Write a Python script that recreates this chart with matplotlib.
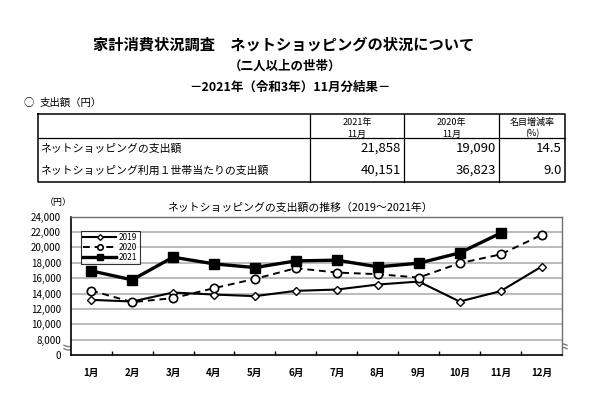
import numpy as np
import matplotlib
matplotlib.use('Agg')
import matplotlib.pyplot as plt

plt.rcParams['font.family'] = ['Noto Sans CJK JP', 'DejaVu Sans']

# monthly net shopping spending (yen)
months = ['1月', '2月', '3月', '4月', '5月', '6月', '7月', '8月', '9月', '10月', '11月', '12月']
y2019 = [13180, 12960, 14130, 13870, 13660, 14350, 14520, 15170, 15560, 12960, 14310, 17500]
y2020 = [14390, 12880, 13400, 14700, 15910, 17300, 16730, 16520, 16080, 17950, 19090, 21620]
y2021 = [16950, 15780, 18730, 17860, 17380, 18250, 18340, 17470, 17950, 19290, 21858]

# summary table
row_labels = ['ネットショッピングの支出額', 'ネットショッピング利用１世帯当たりの支出額']
col_heads = [('2021年', '11月'), ('2020年', '11月'), ('名目増減率', '(%)')]
val_2021 = ['21,858', '40,151']
val_2020 = ['19,090', '36,823']
val_rate = ['14.5', '9.0']

yticks = np.arange(6000, 24001, 2000)
ytick_labels = ['0'] + [f'{v:,}' for v in yticks[1:]]

fig = plt.figure(figsize=(6, 3.99), dpi=100)
fig.patch.set_facecolor('white')

# background axes in pixel coords for titles, table and break marks
bg = fig.add_axes([0, 0, 1, 1])
bg.set_xlim(0, 600)
bg.set_ylim(399, 0)
bg.axis('off')

bg.text(284, 45, '家計消費状況調査　ネットショッピングの状況について', ha='center', va='center',
        fontsize=11, fontweight='bold')
bg.text(285, 66, '（二人以上の世帯）', ha='center', va='center', fontsize=9, fontweight='bold')
bg.text(290, 87, '－2021年（令和3年）11月分結果－', ha='center', va='center', fontsize=9, fontweight='bold')
bg.text(24, 103, '○', ha='left', va='center', fontsize=7.5)
bg.text(40, 103, '支出額（円）', ha='left', va='center', fontsize=7.5)

# table grid
tx = [38.3, 309.5, 404.3, 498.7, 565]
ty_top, ty_head, ty_bot = 114, 138.3, 182.3
bg.plot([tx[0], tx[-1], tx[-1], tx[0], tx[0]], [ty_top, ty_top, ty_bot, ty_bot, ty_top], color='black', lw=1.1)
bg.plot([tx[0], tx[-1]], [ty_head, ty_head], color='black', lw=0.9)
for xv in tx[1:-1]:
    bg.plot([xv, xv], [ty_top, ty_bot], color='black', lw=0.9)
for i, (h1, h2) in enumerate(col_heads):
    cx = (tx[i + 1] + tx[i + 2]) / 2
    bg.text(cx, 122, h1, ha='center', va='center', fontsize=6.5)
    bg.text(cx, 134, h2, ha='center', va='center', fontsize=6.5)
row_y = [148.5, 170.3]
for i, lab in enumerate(row_labels):
    bg.text(40.5, row_y[i], lab, ha='left', va='center', fontsize=7.8)
    for j, vals in enumerate([val_2021, val_2020, val_rate]):
        bg.text(tx[j + 2] - 3, row_y[i], vals[i], ha='right', va='center', fontsize=9.5)

# chart
bg.text(300, 207.5, 'ネットショッピングの支出額の推移（2019～2021年）', ha='center', va='center', fontsize=7.8)
bg.text(58, 202, '（円）', ha='center', va='center', fontsize=6.5)

ax = fig.add_axes([70.7 / 600, 44 / 399, (562 - 70.7) / 600, (355 - 216.7) / 399])
x = np.arange(len(months))
ax.set_xlim(-0.5, 11.5)
ax.set_ylim(6000, 24000)
for v in yticks[1:-1]:
    ax.axhline(v, color='#b5b5b5', lw=1.3, zorder=0)

ax.plot(x, y2019, color='black', lw=1.5, marker='D', ms=4.5, mfc='white', mec='black', mew=1.0, label='2019', zorder=3)
ax.plot(x, y2020, color='black', lw=1.4, ls=(0, (3.5, 2.5)), marker='o', ms=6, mfc='white', mec='black', mew=1.2,
        label='2020', zorder=4)
ax.plot(x[:len(y2021)], y2021, color='black', lw=2.4, marker='s', ms=6.5, mfc='black', mec='black',
        label='2021', zorder=5)

ax.set_yticks(yticks)
ax.set_yticklabels(ytick_labels, fontsize=7)
ax.tick_params(axis='y', length=0, pad=7)
ax.set_xticks(x)
ax.set_xticklabels(months, fontsize=7, fontweight='bold')
ax.set_xticks(np.arange(0.5, 11.5, 1), minor=True)
ax.tick_params(axis='x', which='major', length=0, pad=9)
ax.tick_params(axis='x', which='minor', direction='in', length=3, width=1, color='black')
for s in ['top', 'right']:
    ax.spines[s].set_color('#707070')
    ax.spines[s].set_linewidth(1.0)
for s in ['left', 'bottom']:
    ax.spines[s].set_color('black')
    ax.spines[s].set_linewidth(1.2)

leg = ax.legend(loc='upper left', bbox_to_anchor=(0.02, 0.9), fontsize=6, frameon=True, fancybox=False,
                edgecolor='black', handlelength=4, handletextpad=0.3, borderpad=0.3, labelspacing=0.1,
                borderaxespad=0, markerscale=0.65)
leg.get_frame().set_linewidth(0.8)

# axis break marks
wx = np.linspace(0, 1, 40)
for bx in [64, 549]:
    bg.fill_between([bx, bx + 18], 343, 351, color='white', zorder=10)
    for dy in [345.3, 348.7]:
        bg.plot(bx + 18 * wx, dy + 1.3 * np.sin(wx * 2 * np.pi), color='#7a7a7a', lw=1.0, zorder=11)

fig.savefig('out.png', dpi=100)
